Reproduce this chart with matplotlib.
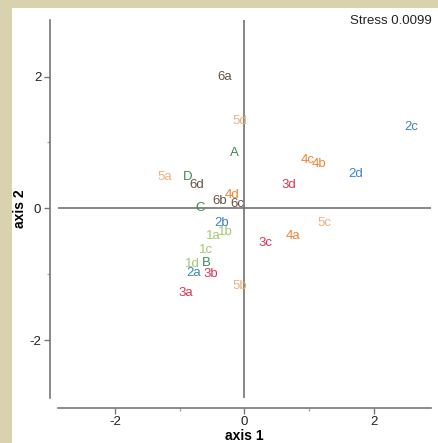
"""NMDS ordination plot of sites with stress annotation."""

import matplotlib
matplotlib.use("Agg")
import matplotlib.pyplot as plt
from matplotlib.patches import Rectangle

plt.rcParams["font.family"] = ["Liberation Sans", "DejaVu Sans"]
plt.rcParams["axes.unicode_minus"] = False

# site labels and their ordination scores
labels = ["6a", "5d", "2c", "A", "4c", "4b", "2d", "5a", "D", "6d", "3d", "4d",
          "6b", "6c", "C", "2b", "5c", "1b", "1a", "4a", "3c", "1c", "1d", "B",
          "2a", "3b", "5b", "3a"]
axis1 = [-0.31, -0.08, 2.58, -0.15, 0.98, 1.16, 1.73, -1.24, -0.88, -0.74, 0.69, -0.19,
         -0.39, -0.11, -0.69, -0.36, 1.24, -0.30, -0.48, 0.75, 0.33, -0.60, -0.81, -0.59,
         -0.79, -0.52, -0.08, -0.91]
axis2 = [1.99, 1.33, 1.23, 0.84, 0.73, 0.67, 0.52, 0.48, 0.47, 0.35, 0.35, 0.21,
         0.11, 0.06, 0.00, -0.23, -0.22, -0.36, -0.42, -0.42, -0.52, -0.63, -0.84, -0.83,
         -0.98, -1.00, -1.18, -1.28]
stress = 0.0099

group_colors = {
    "1": "#a3c870",
    "2": "#3a84c2",
    "3": "#dc3652",
    "4": "#ee8630",
    "5": "#f0b07a",
    "6": "#6c5044",
}
letter_color = "#3a8a5a"

W, H = 439, 443
fig = plt.figure(figsize=(W / 100, H / 100), dpi=100)
fig.patch.set_facecolor("#d8d2ae")
fig.patches.append(Rectangle((12 / W, 0), 1 - 12 / W, (H - 8) / H,
                             transform=fig.transFigure, facecolor="white",
                             edgecolor="none", zorder=-10))

ax = fig.add_axes([58 / W, (H - 398) / H, (431 - 58) / W, (398 - 20) / H])
ax.set_facecolor("none")
ax.set_xlim(-2.89, 2.89)
ax.set_ylim(-2.88, 2.86)

gray = "#777777"
ax.axhline(0, color="#666666", lw=1.1, zorder=1)
ax.axvline(0, color="#666666", lw=1.1, zorder=1)

for name, x, y in zip(labels, axis1, axis2):
    c = group_colors.get(name[0], letter_color)
    ax.text(x, y, name, color=c, fontsize=9.5, ha="center", va="center", zorder=3)

for side in ["top", "right"]:
    ax.spines[side].set_visible(False)
ax.spines["left"].set_position(("outward", 6))
ax.spines["bottom"].set_position(("outward", 7))
for side in ["left", "bottom"]:
    ax.spines[side].set_color(gray)
    ax.spines[side].set_linewidth(1.2)

ax.set_xticks([-2, 0, 2])
ax.set_yticks([-2, 0, 2])
ax.set_xticks([-1, 1], minor=True)
ax.set_yticks([-1, 1], minor=True)
ax.tick_params(which="major", length=4, width=1, color=gray, labelsize=9.5,
               labelcolor="#222222", pad=2)
ax.tick_params(which="minor", length=2.5, width=1, color="#aaaaaa")

ax.set_xlabel("axis 1", fontsize=10, fontweight="bold", labelpad=1)
ax.set_ylabel("axis 2", fontsize=10, fontweight="bold", labelpad=2)

fig.text(432 / W, 1 - 21 / H, f"Stress {stress}", fontsize=9.5, ha="right",
         va="center", color="#222222")

fig.savefig("out.png", dpi=100, facecolor=fig.get_facecolor())
